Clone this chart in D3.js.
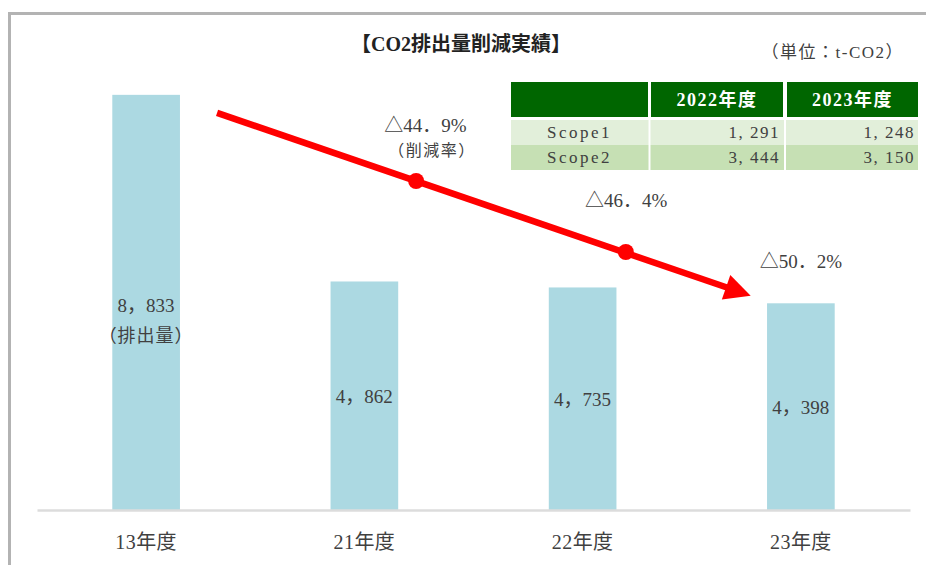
<!DOCTYPE html>
<html>
<head>
<meta charset="utf-8">
<script src="https://cdn.jsdelivr.net/npm/d3@7"></script>
<style>
  body { margin: 0; background: #fff; }
  svg { display: block; }
</style>
</head>
<body>
<div id="chart"></div>
<script>
// ---- data ----
const years = ["13年度", "21年度", "22年度", "23年度"];
const emissions = [8833, 4862, 4735, 4398];
const rateLabels = ["△44．9%", "△46．4%", "△50．2%"];

const tableHead = ["", "2022年度", "2023年度"];
const scopeNames = ["Scope1", "Scope2"];
const scope2022 = ["1, 291", "3, 444"];
const scope2023 = ["1, 248", "3, 150"];

// red arrow (in category index / value units)
const arrowIdx = [0.325, 1.237, 2.198, 2.77];
const arrowVal = [8450, 7000, 5490, 4560];

const W = 926, H = 565;
const font = "'Liberation Serif', 'Noto Sans CJK JP', serif";
const txt = "#404040";

const svg = d3.select("#chart").append("svg")
  .attr("width", W).attr("height", H)
  .style("font-family", font);

// frame
svg.append("rect")
  .attr("x", 9.5).attr("y", 13.5)
  .attr("width", 960).attr("height", 600)
  .attr("fill", "#fff")
  .attr("stroke", "#b3b3b3")
  .attr("stroke-width", 3);

const x = d3.scaleBand().domain(years).range([37, 910])
  .paddingInner(0.69).paddingOuter(0.345);
const y = d3.scaleLinear().domain([0, 10000]).range([510, 40]);
const xi = d3.scaleLinear().domain([0, 1]).range([x(years[0]) + x.bandwidth() / 2, x(years[1]) + x.bandwidth() / 2]);

// bars
svg.append("g").selectAll("rect")
  .data(emissions)
  .join("rect")
  .attr("x", (d, i) => x(years[i]))
  .attr("y", d => y(d))
  .attr("width", x.bandwidth())
  .attr("height", d => y(0) - y(d))
  .attr("fill", "#acd9e2");

// axis
const ax = svg.append("g")
  .attr("transform", `translate(0,${y(0)})`)
  .call(d3.axisBottom(x).tickSize(0));
ax.select(".domain").attr("stroke", "#dcdcdc").attr("stroke-width", 2.5);
ax.selectAll(".tick text")
  .attr("y", 32).attr("dy", "0.35em")
  .attr("font-size", 20).attr("font-family", font)
  .attr("letter-spacing", 0.5)
  .attr("fill", txt);

// bar value labels
const fmt = v => d3.format(",")(v).replace(",", "，");
svg.append("g").selectAll("text")
  .data(emissions)
  .join("text")
  .attr("x", (d, i) => x(years[i]) + x.bandwidth() / 2)
  .attr("y", d => (y(d) + y(0)) / 2 + (d === emissions[0] ? 3 : 1))
  .attr("text-anchor", "middle")
  .attr("dy", "0.35em")
  .attr("font-size", 19)
  .attr("fill", txt)
  .text(d => fmt(d));
svg.append("text")
  .attr("x", x(years[0]) + x.bandwidth() / 2)
  .attr("y", (y(emissions[0]) + y(0)) / 2 + 33)
  .attr("text-anchor", "middle").attr("dy", "0.35em")
  .attr("font-size", 18).attr("letter-spacing", 1).attr("fill", txt)
  .text("（排出量）");

// red arrow
const arrowPts = arrowIdx.map((d, i) => [xi(d), y(arrowVal[i])]);
const tip = arrowPts[3], start = arrowPts[0];
const len = Math.hypot(tip[0] - start[0], tip[1] - start[1]);
const ux = (tip[0] - start[0]) / len, uy = (tip[1] - start[1]) / len;
const headL = 26, headW = 13;
svg.append("line")
  .attr("x1", start[0]).attr("y1", start[1])
  .attr("x2", tip[0] - (headL - 4) * ux).attr("y2", tip[1] - (headL - 4) * uy)
  .attr("stroke", "#ff0000").attr("stroke-width", 6.5);
const bx = tip[0] - headL * ux, by = tip[1] - headL * uy;
svg.append("path")
  .attr("d", d3.line()([
    tip,
    [bx - headW * uy, by + headW * ux],
    [bx + headW * uy, by - headW * ux]
  ]) + "Z")
  .attr("fill", "#ff0000");
svg.append("g").selectAll("circle")
  .data(arrowPts.slice(1, 3))
  .join("circle")
  .attr("cx", d => d[0]).attr("cy", d => d[1])
  .attr("r", 8).attr("fill", "#ff0000");

// reduction rate labels
const rateIdx = [1.28, 2.2, 3.0];
const rateVal = [8180, 6580, 5300];
svg.append("g").selectAll("text")
  .data(rateLabels)
  .join("text")
  .attr("x", (d, i) => xi(rateIdx[i]))
  .attr("y", (d, i) => y(rateVal[i]))
  .attr("text-anchor", "middle").attr("dy", "0.35em")
  .attr("font-size", 19).attr("fill", txt)
  .text(d => d);
svg.append("text")
  .attr("x", xi(1.31)).attr("y", y(7650))
  .attr("text-anchor", "middle").attr("dy", "0.35em")
  .attr("font-size", 16).attr("letter-spacing", 1.5).attr("fill", txt)
  .text("（削減率）");

// title and unit
svg.append("text")
  .attr("x", 461).attr("y", 44)
  .attr("text-anchor", "middle").attr("dy", "0.35em")
  .attr("font-size", 20).attr("font-weight", "bold").attr("fill", "#222")
  .text("【CO2排出量削減実績】");
svg.append("text")
  .attr("x", 904).attr("y", 52)
  .attr("text-anchor", "end").attr("dy", "0.35em")
  .attr("font-size", 17).attr("letter-spacing", 1.5).attr("fill", txt)
  .text("（単位：t-CO2）");

// table
const colX = [511, 651, 787], colW = [137, 132, 131];
const tbl = svg.append("g");
tableHead.forEach((h, c) => {
  tbl.append("rect")
    .attr("x", colX[c]).attr("y", 82)
    .attr("width", colW[c]).attr("height", 35)
    .attr("fill", "#006600");
  tbl.append("text")
    .attr("x", colX[c] + colW[c] / 2).attr("y", 100)
    .attr("text-anchor", "middle").attr("dy", "0.35em")
    .attr("font-size", 18).attr("letter-spacing", 1.5)
    .attr("font-weight", "bold").attr("fill", "#fff")
    .text(h);
});
const rowFill = ["#e2efda", "#c6e0b4"];
scopeNames.forEach((s, r) => {
  const ry = 120 + r * 25;
  tbl.append("rect")
    .attr("x", 511).attr("y", ry)
    .attr("width", 407).attr("height", 25)
    .attr("fill", rowFill[r]);
  [s, scope2022[r], scope2023[r]].forEach((v, c) => {
    tbl.append("text")
      .attr("x", c === 0 ? colX[0] + colW[0] / 2 : colX[c] + colW[c] - 3)
      .attr("y", ry + 12.5)
      .attr("text-anchor", c === 0 ? "middle" : "end")
      .attr("dy", "0.35em")
      .attr("font-size", 17).attr("letter-spacing", c === 0 ? 2.5 : 1.5)
      .attr("fill", txt)
      .text(v);
  });
});
tbl.selectAll("line.sep")
  .data([649.5, 785])
  .join("line")
  .attr("x1", d => d).attr("x2", d => d)
  .attr("y1", 120).attr("y2", 170)
  .attr("stroke", "#fff").attr("stroke-width", 2);
</script>
</body>
</html>
